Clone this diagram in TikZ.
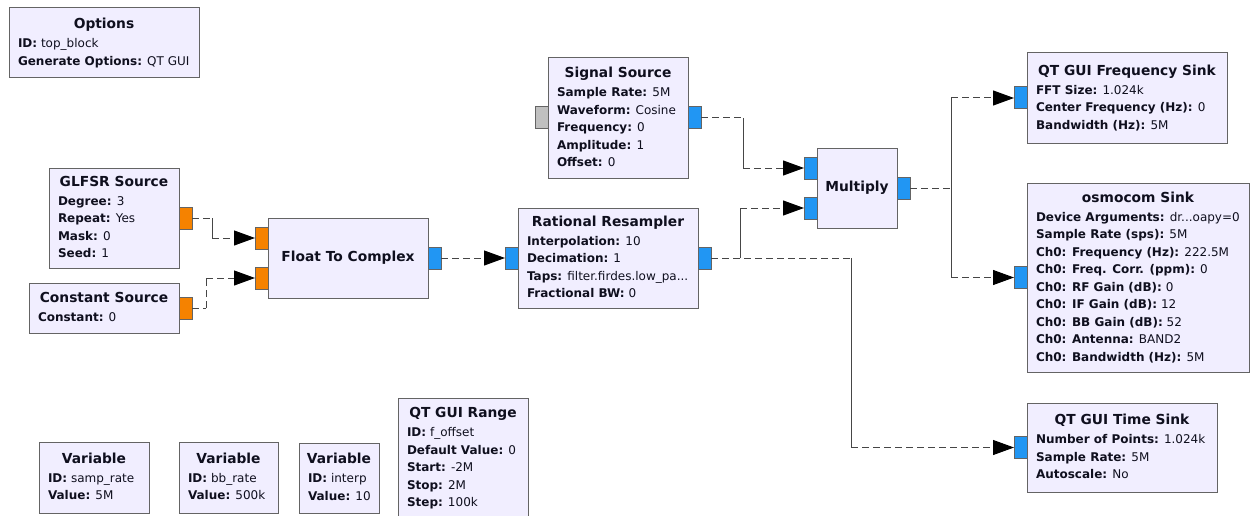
\documentclass[tikz,border=0pt]{standalone}
\usepackage{fontspec}
\setmainfont{DejaVu Sans}
\usetikzlibrary{arrows.meta}
\definecolor{blkfill}{RGB}{241,238,255}
\definecolor{bordc}{RGB}{100,100,100}
\definecolor{portblue}{RGB}{33,150,243}
\definecolor{portorange}{RGB}{245,130,0}
\definecolor{portgray}{RGB}{192,192,192}
\definecolor{wirec}{RGB}{70,70,70}
\definecolor{txtc}{RGB}{15,15,30}
\newcommand{\threedots}{...}
\tikzset{
  blk/.style={draw=bordc, fill=blkfill, line width=1pt, inner sep=0pt, outer sep=0pt},
  ttl/.style={font=\fontsize{13.8}{16}\selectfont\bfseries, text=txtc, inner sep=0pt, outer sep=0pt},
  txt/.style={font=\fontsize{12}{14}\selectfont, text=txtc, inner sep=0pt, outer sep=0pt},
  port/.style={draw=bordc, line width=1pt, minimum width=13, minimum height=22, inner sep=0pt, outer sep=0pt},
  cport/.style={port, fill=portblue},
  fport/.style={port, fill=portorange},
  mport/.style={port, fill=portgray},
  wire/.style={draw=wirec, line width=1pt, dash pattern=on 7pt off 4pt},
  vwire/.style={draw=wirec, line width=1pt},
  arr/.style={wire, -{Triangle[length=21pt,width=15pt,color=black]}}
}
% name, x, y, w, h, nlines, title, key/value list
\newcommand{\grcblock}[8]{%
  \node[blk, minimum width=#4, minimum height=#5, anchor=north west] (#1) at (#2,#3) {};
  \pgfmathsetmacro{\tb}{#3+#5/2-8.75*#6+3.3}
  \node[ttl, anchor=base] (#1-t) at (#2+#4/2,\tb) {#7};
  \foreach [count=\i] \k/\v in {#8} {
    \node[txt, anchor=base west] (#1-\i) at (#2+9,\tb+19+17.5*\i-17.5) {\textbf{\k:} \v};
  }
}
\begin{document}
\begin{tikzpicture}[x=1pt,y=-1pt]
\useasboundingbox[fill=white] (0,0) rectangle (1252,516);

\grcblock{opt}{9}{8}{190}{70}{2}{Options}{ID/top\_block, Generate Options/QT GUI}
\grcblock{glfsr}{49}{168}{130}{100}{4}{GLFSR Source}{Degree/3, Repeat/Yes, Mask/0, Seed/1}
\grcblock{const}{29}{283}{150}{50}{1}{Constant Source}{Constant/0}

\node[blk, minimum width=160, minimum height=80, anchor=north west] (f2c) at (268,218) {};
\node[ttl, anchor=base] (f2c-t) at (348,261.3) {Float To Complex};

\grcblock{resamp}{518}{208}{180}{100}{4}{Rational Resampler}{Interpolation/10, Decimation/1, Taps/filter.firdes.low\_pa\threedots, Fractional BW/0}
\grcblock{sig}{548}{58}{140}{120}{5}{Signal Source}{Sample Rate/5M, Waveform/Cosine, Frequency/0, Amplitude/1, Offset/0}

\node[blk, minimum width=80, minimum height=80, anchor=north west] (mult) at (817,148) {};
\node[ttl, anchor=base] (mult-t) at (857,191.3) {Multiply};

\grcblock{freq}{1027}{53}{200}{90}{3}{QT GUI Frequency Sink}{FFT Size/1.024k, Center Frequency (Hz)/0, Bandwidth (Hz)/5M}
\grcblock{osmo}{1027}{183}{222}{189}{9}{osmocom Sink}{Device Arguments/dr\threedots oapy=0, Sample Rate (sps)/5M, Ch0: Frequency (Hz)/222.5M, Ch0: Freq. Corr. (ppm)/0, Ch0: RF Gain (dB)/0, Ch0: IF Gain (dB)/12, Ch0: BB Gain (dB)/52, Ch0: Antenna/BAND2, Ch0: Bandwidth (Hz)/5M}
\grcblock{tsink}{1027}{403}{190}{89}{3}{QT GUI Time Sink}{Number of Points/1.024k, Sample Rate/5M, Autoscale/No}

\grcblock{var1}{39}{442}{110}{71}{2}{Variable}{ID/samp\_rate, Value/5M}
\grcblock{var2}{179}{442}{99}{71}{2}{Variable}{ID/bb\_rate, Value/500k}
\grcblock{var3}{299}{443}{80}{70}{2}{Variable}{ID/interp, Value/10}
\grcblock{range}{398}{398}{130}{120}{5}{QT GUI Range}{ID/f\_offset, Default Value/0, Start/-2M, Stop/2M, Step/100k}

% ports
\node[fport, anchor=west] (glfsr-o) at (glfsr.east) {};
\node[fport, anchor=west] (const-o) at (const.east) {};
\node[fport, anchor=east] (f2c-i1) at ([yshift=20pt]f2c.west) {};
\node[fport, anchor=east] (f2c-i2) at ([yshift=-20pt]f2c.west) {};
\node[cport, anchor=west] (f2c-o) at (f2c.east) {};
\node[cport, anchor=east] (resamp-i) at (resamp.west) {};
\node[cport, anchor=west] (resamp-o) at (resamp.east) {};
\node[mport, anchor=east] (sig-i) at (sig.west) {};
\node[cport, anchor=west] (sig-o) at (sig.east) {};
\node[cport, anchor=east] (mult-i1) at ([yshift=20pt]mult.west) {};
\node[cport, anchor=east] (mult-i2) at ([yshift=-20pt]mult.west) {};
\node[cport, anchor=west] (mult-o) at (mult.east) {};
\node[cport, anchor=east] (freq-i) at (freq.west) {};
\node[cport, anchor=east] (osmo-i) at (osmo.west) {};
\node[cport, anchor=east] (tsink-i) at (tsink.west) {};

% junction coordinates
\coordinate (j1) at ([xshift=20pt]glfsr-o.east);
\coordinate (j2) at ([xshift=14pt]const-o.east);
\coordinate (j3) at ([xshift=42pt]sig-o.east);
\coordinate (j4) at ([xshift=29pt]resamp-o.east);
\coordinate (j5) at ([xshift=140pt]resamp-o.east);
\coordinate (j6) at ([xshift=41pt]mult-o.east);

% connections
\draw[wire] (glfsr-o.east) -- (j1);
\draw[vwire] (j1) -- (j1 |- f2c-i1.west);
\draw[arr] (j1 |- f2c-i1.west) -- (f2c-i1.west);

\draw[wire] (const-o.east) -- (j2);
\draw[wire] (j2) -- (j2 |- f2c-i2.west);
\draw[arr] (j2 |- f2c-i2.west) -- (f2c-i2.west);

\draw[arr] (f2c-o.east) -- (resamp-i.west);

\draw[wire] (sig-o.east) -- (j3);
\draw[vwire] (j3) -- (j3 |- mult-i1.west);
\draw[arr] (j3 |- mult-i1.west) -- (mult-i1.west);

\draw[wire] (resamp-o.east) -- (j5);
\draw[vwire] (j4) -- (j4 |- mult-i2.west);
\draw[arr] (j4 |- mult-i2.west) -- (mult-i2.west);
\draw[vwire] (j5) -- (j5 |- tsink-i.west);
\draw[arr] (j5 |- tsink-i.west) -- (tsink-i.west);

\draw[wire] (mult-o.east) -- (j6);
\draw[vwire] (j6 |- freq-i.west) -- (j6 |- osmo-i.west);
\draw[arr] (j6 |- freq-i.west) -- (freq-i.west);
\draw[arr] (j6 |- osmo-i.west) -- (osmo-i.west);
\end{tikzpicture}
\end{document}
